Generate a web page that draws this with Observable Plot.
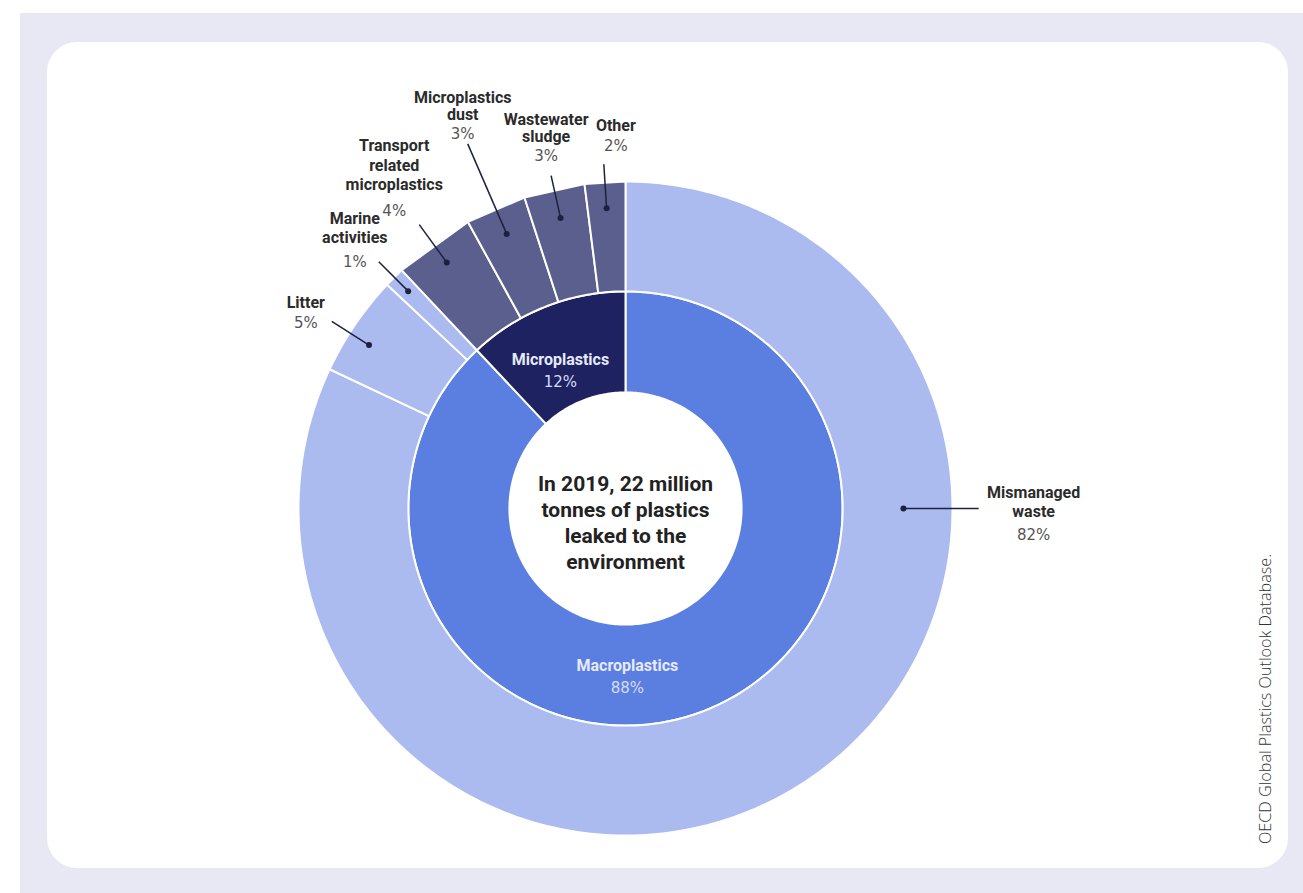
<!DOCTYPE html>
<html><head><meta charset="utf-8">
<script src="https://cdn.jsdelivr.net/npm/d3@7"></script>
<script src="https://cdn.jsdelivr.net/npm/@observablehq/plot@0.6"></script>
<style>
html,body{margin:0;padding:0;background:#fff;width:1303px;height:893px;overflow:hidden;}
#bg{position:absolute;left:20px;top:13px;width:1283px;height:880px;background:#e8e8f4;}
#card{position:absolute;left:47px;top:42px;width:1241px;height:826px;background:#fff;border-radius:30px;}
#chart{position:absolute;left:0;top:0;}
#source{position:absolute;left:1265px;top:699px;transform:translate(-50%,-50%) rotate(-90deg);white-space:nowrap;font-family:"Open Sans",sans-serif;font-weight:300;font-size:16.2px;color:#333;}
</style></head>
<body>
<div id="bg"></div><div id="card"></div><div id="chart"></div><div id="source"></div>
<script>
// ---------- data ----------
const innerNames = ["Macroplastics", "Microplastics"];
const innerValues = [88, 12];
const outerNames = ["Mismanaged waste", "Litter", "Marine activities", "Transport related microplastics", "Microplastics dust", "Wastewater sludge", "Other"];
const outerLines = [["Mismanaged", "waste"], ["Litter"], ["Marine", "activities"], ["Transport", "related", "microplastics"], ["Microplastics", "dust"], ["Wastewater", "sludge"], ["Other"]];
const outerValues = [82, 5, 1, 4, 3, 3, 2];
const outerParents = ["Macroplastics", "Macroplastics", "Macroplastics", "Microplastics", "Microplastics", "Microplastics", "Microplastics"];
const centerTitle = ["In 2019, 22 million", "tonnes of plastics", "leaked to the", "environment"];
const sourceNote = "OECD Global Plastics Outlook Database.";

// ---------- layout / style ----------
const W = 1303, H = 893, CX = 625, CY = 508, R = 327;
const rHole = 0.355, rMid = 0.664, rOuter = 1;
const innerFill = {Macroplastics: "#5b7fe1", Microplastics: "#1e2260"};
const outerFill = {Macroplastics: "#abbaef", Microplastics: "#5b5f8d"};
// leader layout per outer label: angle override (deg, null = mid), dot radius, end radius, percent-text offset (px), name gap (px)
const leaderLayout = [
  {angle: 90, dotR: 0.85, endR: 1.08, pdx: 55, pdy: 27, gap: 24, lh: 1.22},
  {angle: 302.5, dotR: 0.93, endR: 1.065, pdx: -26, pdy: 2, gap: 21, lh: 1.22},
  {angle: null, dotR: 0.94, endR: 1.067, pdx: -24, pdy: 0, gap: 24, lh: 1.22},
  {angle: null, dotR: 0.93, endR: 1.073, pdx: -25, pdy: -13, gap: 27, lh: 1.22},
  {angle: null, dotR: 0.915, endR: 1.215, pdx: -5, pdy: -10, gap: 19, lh: 1.1},
  {angle: null, dotR: 0.91, endR: 1.043, pdx: -5, pdy: -19, gap: 20, lh: 1.1},
  {angle: null, dotR: 0.92, endR: 1.055, pdx: 12, pdy: -18, gap: 21, lh: 1.22}
];
const innerLabelLayout = [{angle: 179.4, r: 0.55}, {angle: -27.3, r: 0.434}];
const innerGap = 23;

document.getElementById("source").textContent = sourceNote;

const rad = (a) => a * Math.PI / 180;
const px = (r, a) => r * Math.sin(rad(a));
const py = (r, a) => r * Math.cos(rad(a));

function wedge(id, a0, a1, r0, r1, fill, outerSteps) {
  const pts = [];
  const so = outerSteps ?? Math.max(2, Math.ceil((a1 - a0) / 1));
  const si = Math.max(2, Math.ceil((a1 - a0) / 1));
  for (let i = 0; i <= so; i++) { const a = a0 + (a1 - a0) * i / so; pts.push({id, fill, x: px(r1, a), y: py(r1, a)}); }
  for (let i = si; i >= 0; i--) { const a = a0 + (a1 - a0) * i / si; pts.push({id, fill, x: px(r0, a), y: py(r0, a)}); }
  return pts;
}

const total = d3.sum(innerValues);
const polys = [];
const innerSegs = [];
let acc = 0;
innerNames.forEach((n, i) => {
  const a0 = acc / total * 360, a1 = (acc + innerValues[i]) / total * 360;
  acc += innerValues[i];
  innerSegs.push({name: n, value: innerValues[i], a0, a1});
  polys.push(...wedge("in" + i, a0, a1, rHole, rMid, innerFill[n]));
});
const outerSegs = [];
acc = 0;
outerNames.forEach((n, i) => {
  const a0 = acc / total * 360, a1 = (acc + outerValues[i]) / total * 360;
  acc += outerValues[i];
  const parent = outerParents[i];
  outerSegs.push({name: n, lines: outerLines[i], value: outerValues[i], a0, a1, parent});
  polys.push(...wedge("out" + i, a0, a1, rMid, rOuter, outerFill[parent], parent === "Microplastics" ? 1 : undefined));
});

const leaders = outerSegs.map((s, i) => {
  const L = leaderLayout[i];
  const a = L.angle ?? (s.a0 + s.a1) / 2;
  const ex = px(L.endR, a), ey = py(L.endR, a);
  const pctX = ex + L.pdx / R, pctY = ey - L.pdy / R;
  return {
    ...s,
    dx: px(L.dotR, a), dy: py(L.dotR, a), ex, ey,
    pctX, pctY, lh: L.lh,
    nameY: pctY + (L.gap - 5.6) / R,
    pct: s.value + "%"
  };
});

const innerLabels = innerSegs.map((s, i) => {
  const L = innerLabelLayout[i];
  const x = px(L.r, L.angle), y = py(L.r, L.angle);
  return {...s, x, y, nameY: y + (innerGap - 5.6) / R, pct: s.value + "%"};
});

const cond = "Roboto, 'Noto Sans', sans-serif";
const nameMarks = [1.22, 1.1].map((lh) =>
  Plot.text(leaders.filter((d) => d.lh === lh), {x: "pctX", y: "nameY", text: (d) => d.lines.join("\n"), lineAnchor: "bottom", lineHeight: lh, fontSize: 16, fontWeight: 700, fill: "#2b2b2b", fontFamily: cond, ariaLabel: "cond-names"})
);
const plot = Plot.plot({
  width: W, height: H, margin: 0,
  x: {domain: [-1, 1], range: [CX - R, CX + R], axis: null},
  y: {domain: [-1, 1], range: [CY + R, CY - R], axis: null},
  color: {type: "identity"},
  style: {background: "transparent", overflow: "visible"},
  marks: [
    Plot.line(polys, {x: "x", y: "y", z: "id", fill: "fill", stroke: "#ffffff", strokeWidth: 2, curve: "linear-closed", strokeLinejoin: "round"}),
    Plot.link(leaders, {x1: "dx", y1: "dy", x2: "ex", y2: "ey", stroke: "#1c2140", strokeWidth: 1.5}),
    Plot.dot(leaders, {x: "dx", y: "dy", r: 3, fill: "#1c2140", stroke: "none"}),
    ...nameMarks,
    Plot.text(leaders, {x: "pctX", y: "pctY", text: "pct", lineAnchor: "middle", fontSize: 15, fill: "#555555", fontFamily: "'DejaVu Sans', sans-serif"}),
    Plot.text(innerLabels, {x: "x", y: "nameY", text: "name", lineAnchor: "bottom", fontSize: 16, fontWeight: 700, fill: "#e6eafb", fontFamily: cond, ariaLabel: "cond-inner"}),
    Plot.text(innerLabels, {x: "x", y: "y", text: "pct", lineAnchor: "middle", fontSize: 15, fill: "#d4dcf7", fontFamily: "'DejaVu Sans', sans-serif"}),
    Plot.text([centerTitle.join("\n")], {x: 0, y: 0, text: (d) => d, dy: 13, lineAnchor: "middle", lineHeight: 1.24, fontSize: 21, fontWeight: 700, fill: "#222222", fontFamily: cond, ariaLabel: "cond-center"})
  ]
});

// condense bold label fonts horizontally
d3.select(plot).selectAll('g[aria-label^="cond"] text').each(function () {
  const t = d3.select(this);
  const s = this.parentNode.getAttribute("aria-label") === "cond-center" ? 0.88 : 0.92;
  const tr = t.attr("transform");
  if (tr) t.attr("transform", tr + ` scale(${s},1)`);
  else {
    const x = +t.attr("x") || 0, y = +t.attr("y") || 0;
    t.attr("x", null).attr("y", null).attr("transform", `translate(${x},${y}) scale(${s},1)`);
  }
});

document.getElementById("chart").appendChild(plot);
</script>
</body></html>
